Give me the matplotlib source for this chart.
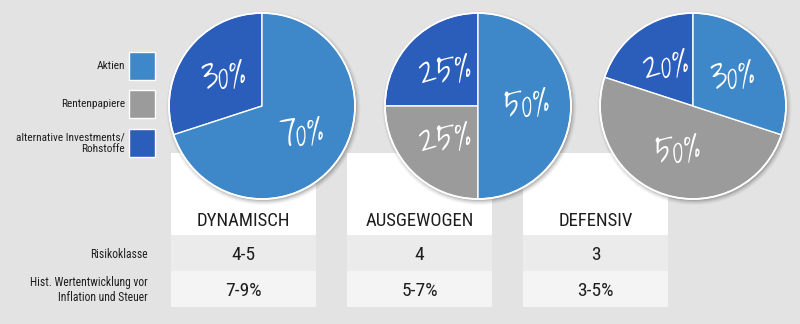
import matplotlib
matplotlib.use("Agg")
import matplotlib.pyplot as plt
from matplotlib.patches import Rectangle, Circle

# ---- data ----
categories = ["Aktien", "Rentenpapiere", "alternative Investments/\nRohstoffe"]
portfolios = ["DYNAMISCH", "AUSGEWOGEN", "DEFENSIV"]
aktien = [70, 50, 30]
renten = [0, 25, 50]
alternative = [30, 25, 20]
risk_labels = ["4-5", "4", "3"]
perf_labels = ["7-9%", "5-7%", "3-5%"]
row_labels = ["Risikoklasse", "Hist. Wertentwicklung vor\nInflation und Steuer"]

# ---- style ----
W, H = 800, 324
BG = "#e3e3e3"
C_AKT = "#3e87c9"
C_REN = "#9b9b9b"
C_ALT = "#2b5dbb"
colors_cat = [C_AKT, C_REN, C_ALT]
FONT = ["Roboto Condensed", "DejaVu Sans"]
HAND = ["Shadows Into Light", "DejaVu Sans"]
TXT = "#1e1e1e"

fig = plt.figure(figsize=(W / 100, H / 100), dpi=100, facecolor=BG)
bg = fig.add_axes([0, 0, 1, 1])
bg.set_xlim(0, W)
bg.set_ylim(H, 0)
bg.axis("off")

col_left = [171, 347, 523]
col_w = 145
pie_cx = [262, 478, 693]
pie_cy = 106
pie_r = 93

# cards and rows
for i in range(3):
    x0 = col_left[i]
    bg.add_patch(Rectangle((x0, 153), col_w, 82, facecolor="white", edgecolor="none", zorder=1))
    bg.add_patch(Rectangle((x0, 235), col_w, 36, facecolor="#ebebeb", edgecolor="none", zorder=1))
    bg.add_patch(Rectangle((x0, 271), col_w, 36, facecolor="#f4f4f4", edgecolor="none", zorder=1))
    cx = x0 + col_w / 2
    bg.text(cx, 221, portfolios[i], ha="center", va="center", fontsize=13.5,
            family=FONT, color=TXT, zorder=3)
    bg.text(cx, 255, risk_labels[i], ha="center", va="center", fontsize=14,
            family=FONT, color=TXT, zorder=3)
    bg.text(cx, 291, perf_labels[i], ha="center", va="center", fontsize=14,
            family=FONT, color=TXT, zorder=3)

# row labels
bg.text(148, 254, row_labels[0], ha="right", va="center", fontsize=8.4,
        family=FONT, color=TXT)
bg.text(148, 290, row_labels[1], ha="right", va="center", fontsize=8.4,
        family=FONT, color=TXT, linespacing=1.15, multialignment="right")

# legend
leg_y = [66, 104, 143]
for lab, col, y in zip(categories, colors_cat, leg_y):
    bg.add_patch(Rectangle((129, y - 14), 26, 28, facecolor=col, edgecolor="white", lw=1, zorder=2))
    bg.text(125, y, lab, ha="right", va="center", fontsize=8.2, family=FONT,
            color=TXT, linespacing=1.2, multialignment="right")

# pies
box = 110
for i in range(3):
    ax = fig.add_axes([(pie_cx[i] - box) / W, (H - pie_cy - box) / H, 2 * box / W, 2 * box / H])
    # soft shadow
    for k, a in enumerate([0.03, 0.04, 0.05, 0.07, 0.09]):
        ax.add_patch(Circle((1.5, -2.0), pie_r + 4 - k, facecolor="black", alpha=a,
                            edgecolor="none", zorder=0))
    vals = [alternative[i], renten[i], aktien[i]]
    cols = [C_ALT, C_REN, C_AKT]
    v = [(val, c) for val, c in zip(vals, cols) if val > 0]
    wedges, texts, autotexts = ax.pie(
        [x[0] for x in v], colors=[x[1] for x in v], startangle=90, counterclock=True,
        radius=pie_r, center=(0, 0), frame=True,
        wedgeprops=dict(edgecolor="white", linewidth=1.0),
        autopct=lambda p: f"{p:.0f}%", pctdistance=0.52,
        textprops=dict(color="white", fontsize=27, family=HAND))
    for w in wedges:
        w.set_zorder(2)
    for t in autotexts:
        t.set_zorder(3)
    ax.add_patch(Circle((0, 0), pie_r, facecolor="none", edgecolor="white", lw=1.3, zorder=3))
    ax.set_xlim(-box, box)
    ax.set_ylim(-box, box)
    ax.set_aspect("equal")
    ax.axis("off")

fig.savefig("out.png", dpi=100, facecolor=BG)
